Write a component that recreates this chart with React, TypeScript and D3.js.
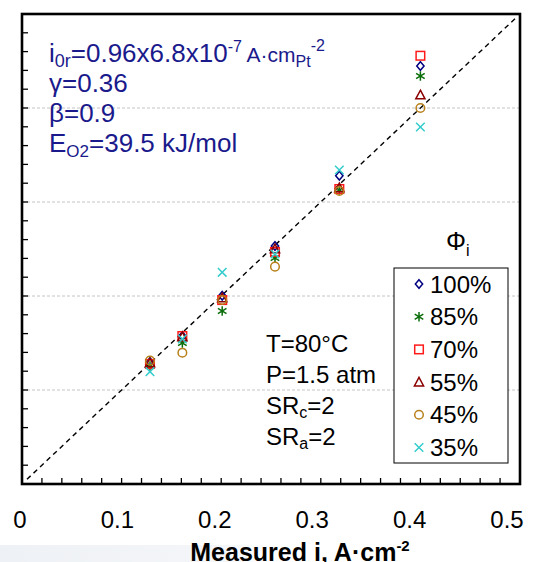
import React from "react";
import * as d3 from "d3";

// Measured current density (x) for each operating point, A/cm²
const measured = [0.1285, 0.161, 0.201, 0.254, 0.3186, 0.4];

// Predicted current density for each inlet O2 fraction Φi
const seriesLabels = ["100%", "85%", "70%", "55%", "45%", "35%"];
const pred100 = [0.1298, 0.1574, 0.2003, 0.2532, 0.328, 0.4447];
const pred85 = [0.1255, 0.15, 0.184, 0.2404, 0.3128, 0.434];
const pred70 = [0.1277, 0.1574, 0.1957, 0.2468, 0.3138, 0.4556];
const pred55 = [0.1287, 0.1564, 0.1979, 0.25, 0.3149, 0.4138];
const pred45 = [0.1312, 0.1397, 0.1957, 0.2312, 0.3117, 0.4];
const pred35 = [0.1195, 0.1543, 0.2252, 0.2447, 0.334, 0.3798];

const xTickLabels = [0, 0.1, 0.2, 0.3, 0.4, 0.5];
const gridValues = [0.1, 0.2, 0.3, 0.4];

const W = 538;
const H = 562;
const left = 22;
const right = 520;
const top = 14;
const bottom = 484;

const x = d3.scaleLinear().domain([0, 0.5]).range([left, right]);
const y = d3.scaleLinear().domain([0, 0.5]).range([bottom, top]);
// tick label band sits slightly narrower than the plot frame
const xLabel = d3.scaleLinear().domain([0, 0.5]).range([20, 507]);

type Shape = "diamond" | "star" | "square" | "triangle" | "circle" | "cross";

const shapes: Shape[] = ["diamond", "star", "square", "triangle", "circle", "cross"];
const colors = ["#000080", "#0b6e0b", "#ff1a1a", "#8b0000", "#b8801a", "#33cccc"];
const series = [pred100, pred85, pred70, pred55, pred45, pred35];

function Marker({ shape, cx, cy, color }: { shape: Shape; cx: number; cy: number; color: string }) {
  const s = 4.3;
  const common = { fill: "none", stroke: color, strokeWidth: 1.5 };
  switch (shape) {
    case "diamond":
      return <path d={`M${cx},${cy - s}L${cx + s * 0.85},${cy}L${cx},${cy + s}L${cx - s * 0.85},${cy}Z`} {...common} />;
    case "square":
      return <rect x={cx - s} y={cy - s} width={2 * s} height={2 * s} {...common} />;
    case "triangle":
      return <path d={`M${cx},${cy - s - 0.5}L${cx + s + 0.3},${cy + s - 0.5}L${cx - s - 0.3},${cy + s - 0.5}Z`} {...common} />;
    case "circle":
      return <circle cx={cx} cy={cy} r={s} {...common} />;
    case "cross":
      return <path d={`M${cx - s},${cy - s}L${cx + s},${cy + s}M${cx - s},${cy + s}L${cx + s},${cy - s}`} {...common} />;
    case "star":
      return (
        <path
          d={`M${cx},${cy - s - 0.5}L${cx},${cy + s + 0.5}M${cx - s},${cy - s * 0.6}L${cx + s},${cy + s * 0.6}M${cx - s},${cy + s * 0.6}L${cx + s},${cy - s * 0.6}`}
          {...common}
        />
      );
  }
}

export default function App() {
  const fine = d3.range(0, 0.5001, 0.02);
  const font = "'Liberation Sans', Arial, sans-serif";
  const navy = "#1a1a8c";

  return (
    <svg width={W} height={H} style={{ position: "absolute", left: 0, top: 0 }} fontFamily={font}>
      <defs>
        <linearGradient id="bandFade" x1="0" x2="1" y1="0" y2="0">
          <stop offset="0" stopColor="#eef1f5" />
          <stop offset="0.8" stopColor="#f4f6f9" />
          <stop offset="1" stopColor="#ffffff" />
        </linearGradient>
      </defs>
      <rect width={W} height={H} fill="#fff" />
      <rect x={0} y={545} width={280} height={17} fill="url(#bandFade)" />

      {/* horizontal gridlines */}
      {gridValues.map((v) => (
        <line key={v} x1={left} x2={right} y1={y(v)} y2={y(v)} stroke="#c4c4c4" strokeWidth={1} strokeDasharray="3,2" />
      ))}

      {/* parity line */}
      <line x1={x(0.005)} y1={y(0.005)} x2={x(0.497)} y2={y(0.497)} stroke="#000" strokeWidth={1.4} strokeDasharray="5,4" />

      {/* minor ticks */}
      {fine.map((v, i) => (
        <g key={i}>
          <line x1={x(v)} x2={x(v)} y1={bottom} y2={bottom - 6} stroke="#000" strokeWidth={1.3} />
          <line x1={left} x2={left + 6} y1={y(v)} y2={y(v)} stroke="#000" strokeWidth={1.3} />
        </g>
      ))}

      {/* plot frame */}
      <rect x={left} y={top} width={right - left} height={bottom - top} fill="none" stroke="#000" strokeWidth={2.6} />

      {/* data points */}
      {series.map((vals, si) =>
        vals.map((v, i) => (
          <Marker key={`${si}-${i}`} shape={shapes[si]} cx={x(measured[i])} cy={y(v)} color={colors[si]} />
        ))
      )}

      {/* x tick labels */}
      {xTickLabels.map((v) => (
        <text key={v} x={xLabel(v)} y={528} textAnchor="middle" fontSize={24} fill="#000">
          {v === 0 ? "0" : String(v)}
        </text>
      ))}
      <text x={300} y={561} textAnchor="middle" fontSize={25} fontWeight="bold" fill="#000">
        Measured i, A·cm
        <tspan fontSize={15} dy={-10}>-2</tspan>
      </text>

      {/* model parameters */}
      <g fill={navy} fontSize={26}>
        <text x={49} y={62}>
          i<tspan fontSize={18} dy={5}>0r</tspan>
          <tspan dy={-5}>=0.96x6.8x10</tspan>
          <tspan fontSize={16} dy={-10}>-7</tspan>
          <tspan fontSize={21} dy={10}> A·cm</tspan>
          <tspan fontSize={16} dy={5}>Pt</tspan>
          <tspan fontSize={16} dy={-16}>-2</tspan>
        </text>
        <text x={49} y={92}>γ=0.36</text>
        <text x={49} y={122}>β=0.9</text>
        <text x={49} y={152}>
          E<tspan fontSize={17} dy={5}>O2</tspan>
          <tspan dy={-5}>=39.5 kJ/mol</tspan>
        </text>
      </g>

      {/* operating conditions */}
      <g fill="#000" fontSize={24}>
        <text x={266} y={352}>T=80°C</text>
        <text x={266} y={383}>P=1.5 atm</text>
        <text x={266} y={414}>
          SR<tspan fontSize={16} dy={4}>c</tspan>
          <tspan dy={-4}>=2</tspan>
        </text>
        <text x={266} y={445}>
          SR<tspan fontSize={16} dy={4}>a</tspan>
          <tspan dy={-4}>=2</tspan>
        </text>
      </g>

      {/* legend */}
      <text x={446} y={250} fontSize={25} fill="#000">
        Φ<tspan fontSize={16} dy={6}>i</tspan>
      </text>
      <rect x={394} y={268} width={114} height={195} fill="#fff" stroke="#000" strokeWidth={1} />
      {seriesLabels.map((lab, i) => {
        const cy = 284 + i * 32.7;
        return (
          <g key={lab}>
            <Marker shape={shapes[i]} cx={419} cy={cy} color={colors[i]} />
            <text x={430} y={cy + 8.5} fontSize={24} fill="#000">
              {lab}
            </text>
          </g>
        );
      })}
    </svg>
  );
}
